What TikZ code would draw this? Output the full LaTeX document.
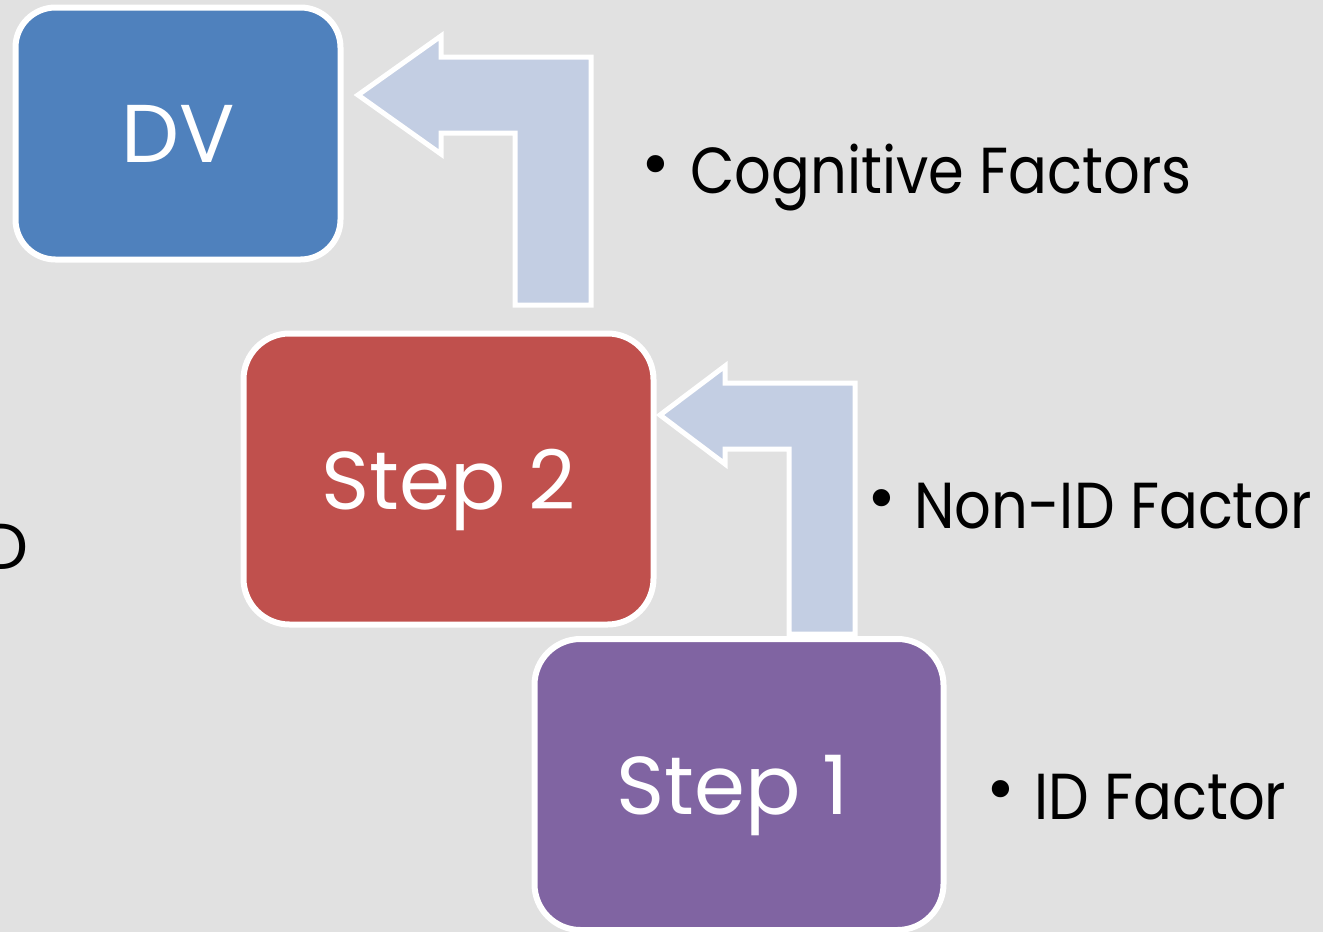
\documentclass[tikz,border=0pt]{standalone}
\usepackage{fontspec}
\usepackage{graphicx}
\setmainfont{Poppins}
\definecolor{pagebg}{HTML}{E1E1E1}
\definecolor{dvblue}{HTML}{4F81BD}
\definecolor{stepred}{HTML}{C0504D}
\definecolor{steppurple}{HTML}{8064A2}
\definecolor{arrowfill}{HTML}{C3CEE3}
% factor labels are set slightly condensed
\newcommand\condensed[1]{\scalebox{0.885}[1]{#1}}
\tikzset{
  stagebox/.style={draw=white, line width=6pt, text=white, inner sep=0pt,
    text depth=0pt, font=\fontsize{82}{90}\selectfont},
  bendarrow/.style={fill=arrowfill, draw=white, line width=5pt, miter limit=10},
  factor/.style={anchor=base west, inner sep=0pt, text=black,
    font=\fontsize{65}{70}\selectfont},
  bulletmark/.style={inner sep=0pt, text=black, font=\fontsize{70}{70}\selectfont}
}
\begin{document}
\begin{tikzpicture}[x=1pt,y=-1pt]
  % page and background
  \useasboundingbox (0,0) rectangle (1323,932);
  \fill[pagebg] (0,0) rectangle (1323,932);

  % bent block arrows
  \draw[bendarrow] (358,95) -- (441,36) -- (441,57) -- (591,57) -- (591,305)
    -- (515,305) -- (515,133) -- (441,133) -- (441,154) -- cycle;
  \draw[bendarrow] (660,415) -- (725,366) -- (725,383) -- (855,383) -- (855,634)
    -- (789,634) -- (789,449) -- (725,449) -- (725,464) -- cycle;

  % stages
  \node[stagebox, fill=dvblue, minimum width=325pt, minimum height=252pt,
    rounded corners=40pt] (dv) at (178,133.5) {DV};
  \node[stagebox, fill=stepred, minimum width=410pt, minimum height=291pt,
    rounded corners=46pt] (step2) at (448.5,479) {Step 2};
  \node[stagebox, fill=steppurple, minimum width=409pt, minimum height=291pt,
    rounded corners=46pt] (step1) at (739,784.5) {\hspace*{-12pt}Step 1};

  % factor lists
  \node[bulletmark] (b1) at (656,172) {•};
  \node[factor] (cog) at (690,193) {\condensed{Cognitive Factors}};
  \node[bulletmark] (b2) at (882,506) {•};
  \node[factor] (nonid) at (914,528) {\condensed{Non-ID Factor}};
  \node[bulletmark] (b3) at (1001,797) {•};
  \node[factor] (idf) at (1034,819) {\condensed{ID Factor}};

  % text running in from the left edge
  \node[anchor=base east, inner sep=0pt, font=\fontsize{65}{70}\selectfont]
    (edge) at (29,569) {D};
\end{tikzpicture}
\end{document}
